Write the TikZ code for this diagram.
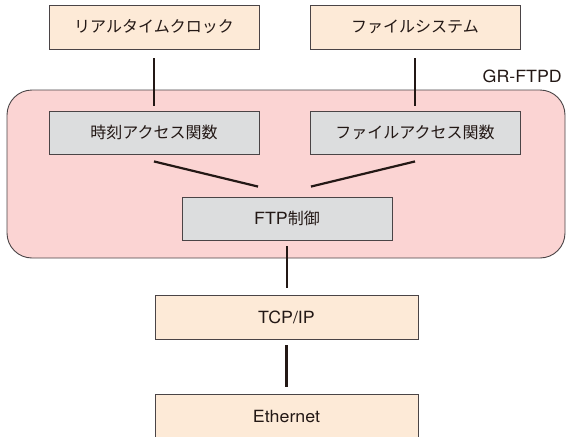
\documentclass[tikz,border=0pt]{standalone}
\usepackage{fontspec}
\setmainfont{TeX Gyre Heros}[FakeStretch=1.06]
\newfontfamily\jp{Noto Sans CJK JP}
\newcommand\ja[1]{{\fontsize{16pt}{18pt}\jp #1}}
\definecolor{ink}{HTML}{231815}
\definecolor{peach}{HTML}{FDEAD7}
\definecolor{boxgray}{HTML}{DCDDDE}
\definecolor{pinkbg}{HTML}{FBD4D3}
\definecolor{edge}{HTML}{4A4446}
\tikzset{
  layer/.style={draw=edge, line width=0.9pt, inner sep=0pt,
    minimum width=210pt, minimum height=44pt, text=ink,
    font=\fontsize{16.8pt}{18pt}\selectfont},
  extbox/.style={layer, fill=peach},
  funcbox/.style={layer, fill=boxgray, minimum height=43pt},
  netbox/.style={layer, fill=peach, minimum width=263pt},
  link/.style={draw=ink, line width=2.2pt},
}
\begin{document}
\begin{tikzpicture}[x=1pt, y=-1pt]
  \useasboundingbox (0,0) rectangle (566,437);
  % GR-FTPD module area
  \node[draw=edge, line width=0.9pt, fill=pinkbg, rounded corners=25pt,
        minimum width=558pt, minimum height=168pt, inner sep=0pt]
        (module) at (286,174) {};
  \node[anchor=base east, text=ink, inner sep=0pt,
        font=\fontsize{16.8pt}{18pt}\selectfont] (modlabel) at (562,82.7) {GR-FTPD};

  % external components
  \node[extbox] (rtc) at (154,27) {\ja{リアルタイムクロック}};
  \node[extbox] (fs)  at (415,27) {\ja{ファイルシステム}};

  % access functions and FTP control
  \node[funcbox] (tacc) at (154,132.5) {\ja{時刻アクセス関数}};
  \node[funcbox] (facc) at (415,132.5) {\ja{ファイルアクセス関数}};
  \node[funcbox] (ftp)  at (287,218.5) {FTP\ja{制御}};

  % network stack
  \node[netbox] (tcp) at (286.5,317) {TCP/IP};
  \node[netbox] (eth) at (286.5,416) {Ethernet};

  % connections
  \draw[link, shorten <=9pt, shorten >=5pt] (rtc.south) -- (tacc.north);
  \draw[link, shorten <=9pt, shorten >=5pt] (fs.south) -- (facc.north);
  \draw[link] ([yshift=-7pt]tacc.south) -- ([xshift=-29pt, yshift=10pt]ftp.north);
  \draw[link] ([yshift=-7pt]facc.south) -- ([xshift=24pt, yshift=10pt]ftp.north);
  \draw[link, shorten <=6pt, shorten >=7pt] (ftp.south) -- (ftp.south |- tcp.north);
  \draw[link, shorten <=6pt, shorten >=7pt] (tcp.south) -- (eth.north);
\end{tikzpicture}
\end{document}
